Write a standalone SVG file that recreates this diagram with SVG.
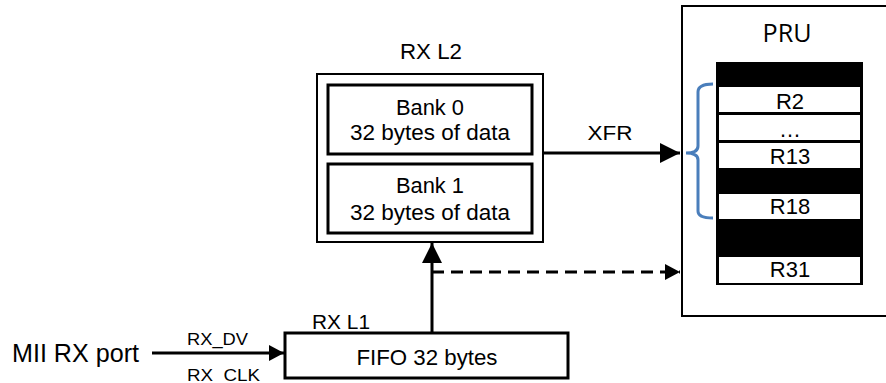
<svg xmlns="http://www.w3.org/2000/svg" width="886" height="383" viewBox="0 0 886 383">
<style>
  text { font-family: "Liberation Sans", Arial, sans-serif; fill: #000; }
  .box { fill: #fff; stroke: #000; }
  .reg { fill: #fff; stroke: none; }
  .rt { font-size: 22px; text-anchor: middle; }
  .conn { stroke: #000; stroke-width: 3; fill: none; }
</style>
<defs>
  <marker id="ah" markerUnits="userSpaceOnUse" markerWidth="20" markerHeight="20" viewBox="0 0 18 18" refX="18" refY="9" orient="auto">
    <path d="M0,0 L18,9 L0,18 Z" fill="#000"/>
  </marker>
  <marker id="ahs" markerUnits="userSpaceOnUse" markerWidth="16" markerHeight="16" viewBox="0 0 15 16" refX="15" refY="8" orient="auto">
    <path d="M0,0 L15,8 L0,16 Z" fill="#000"/>
  </marker>
</defs>
<rect width="886" height="383" fill="#fff"/>

<g id="pru">
  <rect class="box" x="682" y="6" width="220" height="310" stroke-width="2"/>
  <text x="787" y="42" style="font-family:'Open Sans','Noto Sans',sans-serif;font-size:25px" text-anchor="middle" textLength="49" lengthAdjust="spacingAndGlyphs">PRU</text>
  <rect x="716" y="62" width="147" height="223" fill="#000"/>
  <rect class="reg" x="719" y="87" width="141" height="25"/>
  <rect class="reg" x="719" y="115" width="141" height="25"/>
  <rect class="reg" x="719" y="143" width="141" height="25"/>
  <rect class="reg" x="719" y="194" width="141" height="25"/>
  <rect class="reg" x="719" y="257" width="141" height="26"/>
  <text class="rt" x="790" y="109">R2</text>
  <text class="rt" x="790" y="137">…</text>
  <text class="rt" x="790" y="164">R13</text>
  <text class="rt" x="790" y="214">R18</text>
  <text class="rt" x="790" y="277">R31</text>
  <path d="M713,84 Q698,84 698,92 L698,146 Q698,153 686,153 Q698,153 698,160 L698,211 Q698,218 713,218" fill="none" stroke="#4a7ebb" stroke-width="3"/>
</g>

<g id="rxl2">
  <text x="431" y="59" font-size="22" text-anchor="middle" textLength="62" lengthAdjust="spacingAndGlyphs">RX L2</text>
  <rect class="box" x="317" y="74" width="226" height="168" stroke-width="2"/>
</g>

<g id="bank0">
  <rect class="box" x="328" y="85" width="204" height="69" stroke-width="3"/>
  <text x="430" y="115" font-size="22" text-anchor="middle" textLength="68" lengthAdjust="spacingAndGlyphs">Bank 0</text>
  <text x="430" y="140" font-size="22" text-anchor="middle" textLength="160" lengthAdjust="spacingAndGlyphs">32 bytes of data</text>
</g>

<g id="bank1">
  <rect class="box" x="328" y="164" width="204" height="69" stroke-width="3"/>
  <text x="430" y="193" font-size="22" text-anchor="middle" textLength="68" lengthAdjust="spacingAndGlyphs">Bank 1</text>
  <text x="430" y="220" font-size="22" text-anchor="middle" textLength="160" lengthAdjust="spacingAndGlyphs">32 bytes of data</text>
</g>

<g id="rxl1">
  <text x="312" y="329" font-size="21" textLength="58" lengthAdjust="spacingAndGlyphs">RX L1</text>
  <rect class="box" x="285" y="333" width="283" height="45" stroke-width="3"/>
  <text x="427" y="365" font-size="22" text-anchor="middle" textLength="141" lengthAdjust="spacingAndGlyphs">FIFO 32 bytes</text>
</g>

<g id="mii">
  <text x="12" y="362" font-size="26" textLength="127" lengthAdjust="spacingAndGlyphs">MII RX port</text>
</g>

<g id="connectors">
  <line class="conn" x1="543" y1="153" x2="680" y2="153" marker-end="url(#ah)"/>
  <text x="610" y="140" font-size="21" text-anchor="middle" textLength="45" lengthAdjust="spacingAndGlyphs">XFR</text>
  <line class="conn" x1="432" y1="333" x2="432" y2="243" marker-end="url(#ah)"/>
  <line class="conn" x1="432" y1="272" x2="680" y2="272" stroke-dasharray="12 7" marker-end="url(#ahs)"/>
  <line class="conn" x1="152" y1="353" x2="284" y2="353" marker-end="url(#ahs)"/>
  <text x="187" y="345" font-size="16" textLength="61" lengthAdjust="spacingAndGlyphs">RX_DV</text>
  <text x="187" y="381" font-size="16" textLength="73" lengthAdjust="spacingAndGlyphs">RX_CLK</text>
</g>
</svg>
